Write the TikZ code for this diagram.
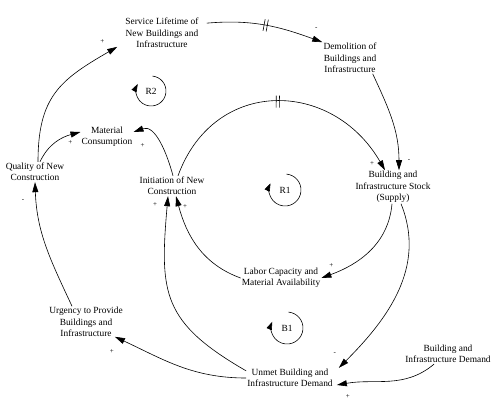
\documentclass[tikz,border=0pt]{standalone}
\usepackage{fontspec}
\setmainfont{Liberation Serif}
\usetikzlibrary{arrows.meta,decorations.markings}

\begin{document}
\begin{tikzpicture}[x=1pt, y=1pt,
  every node/.style = {align=center, inner sep=1pt,
    font=\fontsize{9.4}{11.3}\selectfont},
  link/.style = {-{Triangle[length=10pt,width=6pt]}, line width=0.6pt},
  sgn/.style = {font=\fontsize{7}{8}\selectfont, inner sep=0pt},
  delay/.style = {postaction={decorate, decoration={markings,
      mark=at position #1 with {\draw[-, line width=0.6pt] (-1.6,-6) -- (-1.6,6) (1.6,-6) -- (1.6,6);}}}},
  loopmark/.style = {-{Triangle[length=8pt,width=5.5pt]}, line width=0.6pt}]
  \useasboundingbox (0,0) rectangle (500,-410);

  % variables
  \node (svc) at (162,-33) {Service Lifetime of\\New Buildings and\\Infrastructure};
  \node (demo) at (350,-58) {Demolition of\\Buildings and\\Infrastructure};
  \node (mat) at (107,-137) {Material\\Consumption};
  \node (qual) at (35,-172) {Quality of New\\Construction};
  \node (init) at (172,-186) {Initiation of New\\Construction};
  \node (stock) at (393,-187) {Building and\\Infrastructure Stock\\(Supply)};
  \node (labor) at (281,-278) {Labor Capacity and\\Material Availability};
  \node (urg) at (86,-322) {Urgency to Provide\\Buildings and\\Infrastructure};
  \node (unmet) at (290,-378) {Unmet Building and\\Infrastructure Demand};
  \node (demand) at (448,-354) {Building and\\Infrastructure Demand};

  % causal links
  \draw[link, delay=0.5] ([xshift=7pt,yshift=-6pt]svc.north east) to[out=5,in=160]
    node[sgn, at end, xshift=-6pt, yshift=13.5pt] {-} (demo.north west);
  \draw[link] ([xshift=-5pt]demo.south east) to[out=-65,in=90]
    node[sgn, at end, xshift=10pt, yshift=9.5pt] {-} ([xshift=6pt]stock.north);
  \draw[link, delay=0.5] ([xshift=6pt]init.north) to[out=70,in=120,looseness=1.3]
    node[sgn, at end, xshift=-13pt, yshift=6.5pt] {+} ([xshift=-8pt]stock.north);
  \draw[link] ([xshift=-1pt]stock.south) to[out=-95,in=20]
    node[sgn, at end, xshift=10pt, yshift=12pt] {+} (labor.east);
  \draw[link] ([xshift=8pt]stock.south) to[out=-68,in=45]
    node[sgn, at end, xshift=-4pt, yshift=14pt] {-} ([xshift=5pt]unmet.north east);
  \draw[link] (labor.west) to[out=160,in=-75]
    node[sgn, at end, xshift=9pt, yshift=-10pt] {+} ([xshift=4pt]init.south);
  \draw[link] ([yshift=-3pt]unmet.north west) to[out=150,in=-95,looseness=1.3]
    node[sgn, at end, xshift=-13pt, yshift=-8pt] {+} ([xshift=-4pt]init.south);
  \draw[link] ([xshift=-14pt]demand.south) to[out=-140,in=10]
    node[sgn, at end, xshift=11pt, yshift=-12pt] {+} ([xshift=3pt,yshift=-7pt]unmet.east);
  \draw[link] (unmet.west) to[out=180,in=-25]
    node[sgn, at end, xshift=-3pt, yshift=-15pt] {+} ([xshift=-9pt,yshift=1pt]urg.south east);
  \draw[link] ([xshift=-14pt]urg.north) to[out=115,in=-88]
    node[sgn, at end, xshift=-12pt, yshift=-18pt] {-} (qual.south);
  \draw[link] ([xshift=3pt]qual.north) to[out=90,in=-150,looseness=1.2]
    node[sgn, at end, xshift=-15pt, yshift=5.5pt] {+} ([xshift=-7pt,yshift=2pt]svc.south west);
  \draw[link] ([xshift=5pt]qual.north) to[out=65,in=195]
    node[sgn, at end, xshift=-10pt, yshift=-11pt] {+} ([yshift=5pt]mat.west);
  \draw[link] ([xshift=1pt]init.north) to[out=105,in=20]
    node[sgn, at end, xshift=9pt, yshift=-14pt] {+} ([yshift=5pt]mat.east);

  % loop markers
  \node (r2) at (151,-91) {R2};
  \draw[loopmark] ([shift={(85:15)}]r2.center) arc[start angle=85, end angle=-208, radius=15];
  \node (r1) at (285,-190) {R1};
  \draw[loopmark] ([shift={(85:16)}]r1.center) arc[start angle=85, end angle=-205, radius=16];
  \node (b1) at (287,-328) {B1};
  \draw[loopmark] ([shift={(85:16)}]b1.center) arc[start angle=85, end angle=-203, radius=16];
\end{tikzpicture}
\end{document}
